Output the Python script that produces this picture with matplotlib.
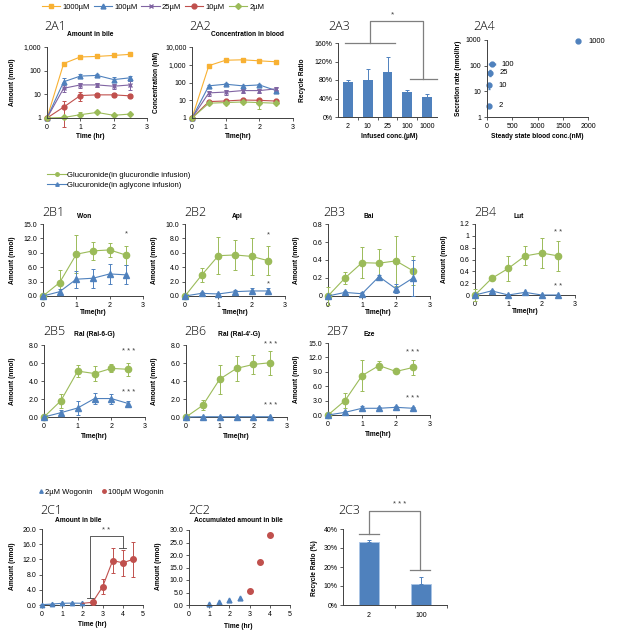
import matplotlib
matplotlib.use("Agg")
import matplotlib.pyplot as plt
from matplotlib.lines import Line2D
from matplotlib.ticker import NullLocator, FixedLocator

# ---- data -----------------------------------------------------------------
t = [0, 0.5, 1, 1.5, 2, 2.5]

# 2A1 amount in bile (nmol)
bile_1000 = [1, 200, 380, 400, 440, 490]
bile_1000_err = [0, 20, 30, 30, 40, 50]
bile_100 = [1, 34, 59, 63, 42, 50]
bile_100_err = [0, 15, 10, 10, 10, 12]
bile_25 = [1, 18, 25, 25, 22, 25]
bile_25_err = [0, 6, 6, 5, 5, 10]
bile_10 = [1, 2.9, 8.9, 9.5, 9.5, 8.6]
bile_10_err = [0, 2.5, 3.5, 1.5, 1.5, 1.5]
bile_2 = [1, 1.05, 1.38, 1.72, 1.3, 1.47]
bile_2_err = [0, 0.1, 0.4, 0.1, 0.1, 0.1]

# 2A2 concentration in blood (nM)
blood_1000 = [1, 890, 1800, 1900, 1660, 1470]
blood_1000_err = [0, 100, 200, 500, 300, 400]
blood_100 = [1, 65, 80, 65, 73, 35]
blood_100_err = [0, 10, 10, 10, 10, 5]
blood_25 = [1, 26, 29, 35, 35, 44]
blood_25_err = [0, 8, 8, 10, 10, 10]
blood_10 = [1, 8.4, 9.1, 10.3, 9.9, 9]
blood_10_err = [0, 1, 1, 2, 2, 1]
blood_2 = [1, 6.8, 7.4, 8, 7.4, 6.8]
blood_2_err = [0, 1, 1, 1, 4, 1]

dose_names = ["1000µM", "100µM", "25µM", "10µM", "2µM"]

# 2A3 recycle ratio
conc_labels = ["2", "10", "25", "100", "1000"]
recycle = [0.76, 0.80, 0.97, 0.53, 0.44]
recycle_err = [0.05, 0.23, 0.32, 0.05, 0.06]

# 2A4 secretion rate vs steady state blood conc
ss_labels = ["2", "10", "25", "100", "1000"]
ss_blood = [32, 32, 65, 100, 1807]
ss_blood_err = [5, 5, 15, 60, 0]
secretion = [2.8, 17, 53, 115, 900]
secretion_err = [0.3, 5, 15, 10, 0]

# 2B glucuronide amounts (glu = glucuronide infusion, agl = aglycone infusion)
won_glu = [0, 2.8, 8.7, 9.4, 9.6, 8.5]
won_glu_err = [0, 2.6, 4.0, 1.8, 1.4, 2.0]
won_agl = [0, 0.9, 3.5, 3.7, 4.6, 4.4]
won_agl_err = [0, 0.5, 1.8, 2.0, 2.0, 2.0]

api_glu = [0, 2.9, 5.6, 5.7, 5.5, 4.9]
api_glu_err = [0, 1.0, 2.6, 2.1, 2.6, 2.0]
api_agl = [0, 0.37, 0.28, 0.6, 0.7, 0.7]
api_agl_err = [0, 0.2, 0.2, 0.3, 0.45, 0.45]

bai_glu = [0, 0.20, 0.37, 0.365, 0.39, 0.28]
bai_glu_err = [0.1, 0.07, 0.17, 0.155, 0.28, 0.16]
bai_agl = [0, 0.04, 0.025, 0.215, 0.08, 0.2]
bai_agl_err = [0, 0.02, 0.02, 0.02, 0.05, 0.2]

lut_glu = [0, 0.28, 0.45, 0.66, 0.71, 0.66]
lut_glu_err = [0.1, 0.02, 0.21, 0.16, 0.25, 0.26]
lut_agl = [0, 0.07, 0, 0.045, 0, 0]
lut_agl_err = [0, 0.01, 0, 0.01, 0, 0]

ral6_glu = [0, 1.8, 5.1, 4.83, 5.4, 5.3]
ral6_glu_err = [0, 0.75, 0.7, 0.85, 0.45, 0.75]
ral6_agl = [0, 0.48, 1.0, 2.05, 2.05, 1.5]
ral6_agl_err = [0, 0.3, 0.75, 0.6, 0.55, 0.3]

ral4_glu = [0, 1.3, 4.2, 5.4, 5.84, 6.03]
ral4_glu_err = [0, 0.55, 1.6, 1.4, 1.1, 1.35]
ral4_agl = [0, 0.03, 0.03, 0.03, 0.03, 0.03]
ral4_agl_err = [0, 0, 0, 0, 0, 0]

eze_glu = [0, 3.0, 8.2, 10.3, 9.07, 9.9]
eze_glu_err = [0, 1.5, 3.3, 1.0, 0.3, 1.6]
eze_agl = [0, 0.55, 1.4, 1.4, 1.6, 1.4]
eze_agl_err = [0, 0.2, 0.5, 0.3, 0.3, 0.3]

# 2C wogonin
t_low = [0, 0.5, 1, 1.5, 2]
bile_low = [0.1, 0.25, 0.45, 0.5, 0.45]
bile_low_err = [0.05, 0.1, 0.15, 0.1, 0.1]
t_high = [2, 2.5, 3, 3.5, 4, 4.5]
bile_high = [0.45, 0.7, 4.8, 11.7, 11.1, 12.0]
bile_high_err = [0, 0.3, 2.0, 3.4, 3.5, 4.7]

t_acc_low = [1, 1.5, 2, 2.5]
acc_low = [0.5, 1.3, 2.0, 2.8]
t_acc_high = [3, 3.5, 4]
acc_high = [5.5, 17.1, 28.0]

dose_c = ["2", "100"]
recycle_c = [0.33, 0.11]
recycle_c_err = [0.01, 0.04]

# ---- style ----------------------------------------------------------------
ORANGE = "#F8B133"
BLUE = "#4F81BD"
PURPLE = "#8064A2"
RED = "#C0504D"
GREEN = "#9BBB59"
AXC = "#404040"
TICK_FS = 5
LAB_FS = 4.8
PANEL_FONT = ["Open Sans", "DejaVu Sans"]

plt.rcParams["font.family"] = ["Liberation Sans", "DejaVu Sans"]

W, H = 617, 639
fig = plt.figure(figsize=(W / 100, H / 100), dpi=100)


def add_ax(x0, x1, y0, y1):
    return fig.add_axes([x0 / W, 1 - y1 / H, (x1 - x0) / W, (y1 - y0) / H])


def txt(x, y, s, **kw):
    kw.setdefault("ha", "center")
    kw.setdefault("va", "center")
    return fig.text(x / W, 1 - y / H, s, **kw)


def style(ax):
    for s in ["top", "right"]:
        ax.spines[s].set_visible(False)
    for s in ["left", "bottom"]:
        ax.spines[s].set_color(AXC)
        ax.spines[s].set_linewidth(0.7)
    ax.tick_params(labelsize=TICK_FS, length=2.5, width=0.6, color=AXC, pad=1.5)
    ax.patch.set_alpha(0)


def panel(x, y, name, title=None, tx=None, ty=None):
    txt(x, y, name, ha="left", fontsize=9, family=PANEL_FONT, weight="light")
    if title:
        txt(tx, ty, title, ha="left", fontsize=LAB_FS, weight="bold")


def ylab(x, y, s):
    txt(x, y, s, rotation=90, fontsize=LAB_FS, weight="bold")


def xlab(x, y, s):
    txt(x, y, s, fontsize=LAB_FS, weight="bold")


def line_err(ax, x, y, e, color, marker, ms, **kw):
    ax.errorbar(x, y, yerr=e, color=color, marker=marker, ms=ms, lw=0.8,
                mec=color, mfc=color, ecolor=color, elinewidth=0.7,
                capsize=1.5, capthick=0.7, clip_on=False, **kw)


# ---- 2A1 / 2A2 ------------------------------------------------------------
a_series = [
    (bile_1000, bile_1000_err, blood_1000, blood_1000_err, ORANGE, "s", 3.5),
    (bile_100, bile_100_err, blood_100, blood_100_err, BLUE, "^", 3.5),
    (bile_25, bile_25_err, blood_25, blood_25_err, PURPLE, "x", 3.5),
    (bile_10, bile_10_err, blood_10, blood_10_err, RED, "o", 3.5),
    (bile_2, bile_2_err, blood_2, blood_2_err, GREEN, "D", 3),
]

ax1 = add_ax(47, 147, 47, 118)
ax2 = add_ax(192, 293, 47, 118)
handles = []
for b, be, c, ce, col, mk, ms in a_series:
    line_err(ax1, t, b, be, col, mk, ms)
    line_err(ax2, t, c, ce, col, mk, ms)
    handles.append(Line2D([], [], color=col, marker=mk, ms=ms, lw=0.8, mec=col))

for ax, top, labs in [(ax1, 1000, ["1", "10", "100", "1,000"]),
                      (ax2, 10000, ["1", "10", "100", "1,000", "10,000"])]:
    ax.set_yscale("log")
    ax.set_ylim(1, top)
    ax.yaxis.set_major_locator(FixedLocator([10 ** i for i in range(len(labs))]))
    ax.set_yticklabels(labs)
    ax.yaxis.set_minor_locator(NullLocator())
    ax.set_xlim(0, 3)
    ax.set_xticks([0, 1, 2, 3])
    style(ax)

fig.legend(handles, dose_names, loc="center left", bbox_to_anchor=(38 / W, 1 - 7 / H),
           ncol=5, frameon=False, fontsize=5.5, handlelength=2.4, handletextpad=0.3,
           columnspacing=0.5, borderpad=0)

panel(44, 27, "2A1", "Amount in bile", 67, 35)
panel(189, 27, "2A2", "Concentration in blood", 211, 34)
ylab(13, 82, "Amount (nmol)")
ylab(157, 82, "Concentration (nM)")
xlab(90, 137, "Time (hr)")
xlab(238, 137, "Time(hr)")

# ---- 2A3 -----------------------------------------------------------------
ax3 = add_ax(338, 437, 43, 117)
xs = list(range(len(conc_labels)))
ax3.bar(xs, recycle, width=0.5, color=BLUE, yerr=[[0] * len(xs), recycle_err],
        error_kw=dict(ecolor=BLUE, elinewidth=0.7, capsize=1.5, capthick=0.7))
ax3.set_xlim(-0.5, 4.5)
ax3.set_ylim(0, 1.6)
ax3.set_yticks([0, 0.4, 0.8, 1.2, 1.6])
ax3.set_yticklabels(["0%", "40%", "80%", "120%", "160%"])
ax3.set_xticks(xs)
ax3.set_xticklabels(conc_labels)
ax3.xaxis.set_minor_locator(FixedLocator([0.5, 1.5, 2.5, 3.5]))
style(ax3)
ax3.tick_params(axis="x", which="major", length=0, pad=4)
ax3.tick_params(axis="x", which="minor", length=2.5, width=0.6, color=AXC)
br = dict(color="#7f7f7f", lw=0.9, clip_on=False)
ax3.plot([-0.15, 2.38], [1.61, 1.61], **br)
ax3.plot([3.14, 4.5], [0.815, 0.815], **br)
ax3.plot([1.12, 1.12, 3.8, 3.8], [1.61, 2.08, 2.08, 0.815], **br)
ax3.text(2.23, 2.2, "*", ha="center", va="center", fontsize=6, color="#404040")
panel(328, 27, "2A3")
ylab(303, 80, "Recycle Ratio")
xlab(389, 137, "Infused conc.(µM)")

# ---- 2A4 -----------------------------------------------------------------
ax4 = add_ax(487, 588, 40, 117)
ax4.errorbar(ss_blood, secretion, xerr=ss_blood_err, yerr=secretion_err, fmt="o",
             color=BLUE, ms=3.5, ecolor=BLUE, elinewidth=0.7, capsize=1, clip_on=False)
for xv, yv, s in zip(ss_blood, secretion, ss_labels):
    ax4.annotate(s, (xv, yv), xytext=(7, 0), textcoords="offset points",
                 fontsize=5.5, va="center", ha="left", annotation_clip=False)
ax4.set_yscale("log")
ax4.set_ylim(1, 1000)
ax4.yaxis.set_minor_locator(NullLocator())
ax4.set_yticks([1, 10, 100, 1000])
ax4.set_yticklabels(["1", "10", "100", "1000"])
ax4.set_xlim(0, 2000)
ax4.set_xticks([0, 500, 1000, 1500, 2000])
style(ax4)
panel(473, 27, "2A4")
ylab(459, 78, "Secretion rate (nmol/hr)")
xlab(537, 137, "Steady state blood conc.(nM)")

# ---- 2B ------------------------------------------------------------------
b_panels = [
    # name, title, data, box, ylim, step, fmt, stars, panel pos, title x
    ("2B1", "Won", won_glu, won_glu_err, won_agl, won_agl_err,
     (43, 143, 224, 296), 15, 3, "%.1f", [("*", 12.9)], (42, 213), 77),
    ("2B2", "Api", api_glu, api_glu_err, api_agl, api_agl_err,
     (185, 285, 224, 296), 10, 2, "%.1f", [("*", 8.5), ("*", 1.7)], (184, 213), 232),
    ("2B3", "Bai", bai_glu, bai_glu_err, bai_agl, bai_agl_err,
     (328, 430, 224, 296), 0.8, 0.2, "g", [], (323, 213), 363),
    ("2B4", "Lut", lut_glu, lut_glu_err, lut_agl, lut_agl_err,
     (475, 575, 224, 295), 1.2, 0.2, "g", [("* *", 1.06), ("* *", 0.15)], (474, 213), 513),
    ("2B5", "Ral (Ral-6-G)", ral6_glu, ral6_glu_err, ral6_agl, ral6_agl_err,
     (44, 145, 345, 417), 8, 2, "%.1f", [("* * *", 7.25), ("* * *", 2.7)], (43, 332), 74),
    ("2B6", "Ral (Ral-4'-G)", ral4_glu, ral4_glu_err, ral4_agl, ral4_agl_err,
     (186, 287, 345, 417), 8, 2, "%.1f", [("* * *", 8.07), ("* * *", 1.3)], (184, 332), 218),
    ("2B7", "Eze", eze_glu, eze_glu_err, eze_agl, eze_agl_err,
     (328, 430, 343, 415), 15, 3, "%.1f", [("* * *", 13.1), ("* * *", 3.5)], (326, 332), 363),
]

for (name, title, g, ge, a, ae, bx, ymax, step, fmt, stars, ppos, tx) in b_panels:
    ax = add_ax(*bx)
    line_err(ax, t, g, ge, GREEN, "o", 4.5, zorder=3)
    line_err(ax, t, a, ae, BLUE, "^", 3.8, zorder=4)
    ax.set_xlim(0, 3)
    ax.set_xticks([0, 1, 2, 3])
    ax.set_ylim(0, ymax)
    n = int(round(ymax / step))
    yt = [round(i * step, 3) for i in range(n + 1)]
    ax.set_yticks(yt)
    ax.set_yticklabels([(fmt % v) if fmt != "g" else ("%g" % v) for v in yt])
    style(ax)
    for s, yv in stars:
        ax.text(2.5, yv, s, ha="center", va="center", fontsize=5.5, color="#404040")
    panel(ppos[0], ppos[1], name, title, tx, ppos[1] + 3)
    ylab(bx[0] - 31, (bx[2] + bx[3]) / 2, "Amount (nmol)")
    xlab(bx[0] + 50, bx[3] + (19 if bx[2] > 300 else 17), "Time(hr)")

b_handles = [Line2D([], [], color=GREEN, marker="o", ms=2.5, lw=0.8),
             Line2D([], [], color=BLUE, marker="^", ms=2.5, lw=0.8)]
fig.legend(b_handles, ["Glucuronide(in glucurondie infusion)",
                       "Glucuronide(in aglycone infusion)"],
           loc="upper left", bbox_to_anchor=(43 / W, 1 - 168 / H), frameon=False,
           fontsize=5.5, handlelength=2.6, handletextpad=0.1, labelspacing=0.3,
           borderpad=0)

# ---- 2C1 -----------------------------------------------------------------
axc1 = add_ax(42, 143, 529, 605)
line_err(axc1, t_low, bile_low, bile_low_err, BLUE, "^", 3.2, zorder=3)
axc1.errorbar(t_high, bile_high, yerr=bile_high_err, color=RED, marker="o", ms=4,
              lw=0.8, ecolor=RED, elinewidth=0.7, capsize=1.5, capthick=0.7,
              markevery=list(range(1, len(t_high))), clip_on=False, zorder=3)
axc1.set_xlim(0, 5)
axc1.set_xticks(range(6))
axc1.set_ylim(0, 20)
axc1.set_yticks([0, 4, 8, 12, 16, 20])
axc1.set_yticklabels(["%.1f" % v for v in [0, 4, 8, 12, 16, 20]])
style(axc1)
br2 = dict(color="#404040", lw=0.6, clip_on=False)
axc1.plot([2.4, 2.4, 4.0, 4.0], [1.9, 18.2, 18.2, 15.1], **br2)
axc1.plot([2.22, 2.58], [1.9, 1.9], **br2)
axc1.plot([3.82, 4.18], [15.1, 15.1], **br2)
axc1.text(3.17, 19.6, "* *", ha="center", va="center", fontsize=5.5, color="#404040")
panel(40, 510, "2C1", "Amount in bile", 55, 521)
ylab(12, 566, "Amount (nmol)")
xlab(92, 624, "Time (hr)")

c_handles = [Line2D([], [], color=BLUE, marker="^", ms=2.5, lw=0),
             Line2D([], [], color=RED, marker="o", ms=2.5, lw=0)]
fig.legend(c_handles, ["2µM Wogonin", "100µM Wogonin"], loc="center left",
           bbox_to_anchor=(35 / W, 1 - 492 / H), ncol=2, frameon=False, fontsize=5.5,
           handlelength=0.6, handletextpad=0.2, columnspacing=1.2, borderpad=0)

# ---- 2C2 -----------------------------------------------------------------
axc2 = add_ax(189, 290, 530, 605)
axc2.plot(t_acc_low, acc_low, "^", color=BLUE, ms=3.5, clip_on=False)
axc2.plot(t_acc_high, acc_high, "o", color=RED, ms=4, clip_on=False)
axc2.set_xlim(0, 5)
axc2.set_xticks(range(6))
axc2.set_ylim(0, 30)
axc2.set_yticks(range(0, 31, 5))
axc2.set_yticklabels(["%.1f" % v for v in range(0, 31, 5)])
style(axc2)
panel(188, 510, "2C2", "Accumulated amount in bile", 194, 521)
ylab(159, 566, "Amount (nmol)")
xlab(238, 626, "Time (hr)")

# ---- 2C3 -----------------------------------------------------------------
axc3 = add_ax(343, 447, 529, 605)
xc = list(range(len(dose_c)))
axc3.bar(xc, recycle_c, width=0.4, color=BLUE, edgecolor="#a9c4e6", lw=0.6,
         yerr=[[0, 0], recycle_c_err],
         error_kw=dict(ecolor=BLUE, elinewidth=0.7, capsize=1.5, capthick=0.7))
axc3.set_xlim(-0.5, 1.5)
axc3.set_ylim(0, 0.4)
axc3.set_yticks([0, 0.1, 0.2, 0.3, 0.4])
axc3.set_yticklabels(["0%", "10%", "20%", "30%", "40%"])
axc3.set_xticks(xc)
axc3.set_xticklabels(dose_c)
axc3.xaxis.set_minor_locator(FixedLocator([0.5, 1.5]))
style(axc3)
axc3.tick_params(axis="x", which="major", length=0, pad=5)
axc3.tick_params(axis="x", which="minor", length=2.5, width=0.6, color=AXC)
br3 = dict(color="#7f7f7f", lw=0.9, clip_on=False)
axc3.plot([-0.19, 0.2], [0.374, 0.374], **br3)
axc3.plot([0.79, 1.17], [0.184, 0.184], **br3)
axc3.plot([0.0, 0.0, 0.98, 0.98], [0.374, 0.495, 0.495, 0.184], **br3)
axc3.text(0.58, 0.53, "* * *", ha="center", va="center", fontsize=5.5, color="#404040")
panel(338, 510, "2C3")
ylab(315, 568, "Recycle Ratio (%)")

fig.savefig("out.png", dpi=100)
